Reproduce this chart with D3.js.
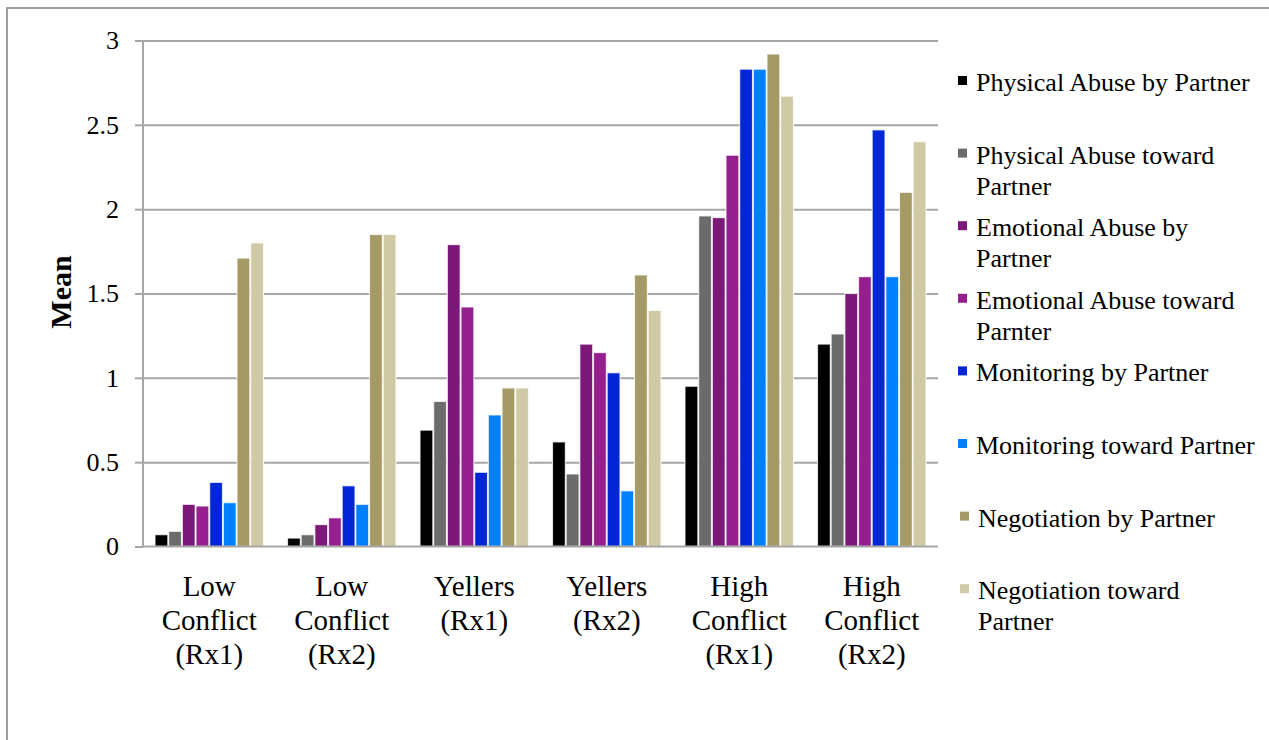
<!DOCTYPE html>
<html>
<head>
<meta charset="utf-8">
<script src="https://cdn.jsdelivr.net/npm/d3@7"></script>
<style>
  html, body { margin: 0; padding: 0; background: #fff; }
  svg { display: block; }
  svg text { font-family: "Liberation Serif", "Times New Roman", serif !important; }
</style>
</head>
<body>
<svg id="chart" width="1269" height="740"></svg>
<script>
// Groups along the x axis (each label split into its display lines)
const categories = ["Low Conflict (Rx1)", "Low Conflict (Rx2)", "Yellers (Rx1)", "Yellers (Rx2)", "High Conflict (Rx1)", "High Conflict (Rx2)"];
const categoryLines = [
  ["Low", "Conflict", "(Rx1)"],
  ["Low", "Conflict", "(Rx2)"],
  ["Yellers", "(Rx1)"],
  ["Yellers", "(Rx2)"],
  ["High", "Conflict", "(Rx1)"],
  ["High", "Conflict", "(Rx2)"]
];

// Series, in legend order
const seriesNames = [
  "Physical Abuse by Partner",
  "Physical Abuse toward Partner",
  "Emotional Abuse by Partner",
  "Emotional Abuse toward Parnter",
  "Monitoring by Partner",
  "Monitoring toward Partner",
  "Negotiation by Partner",
  "Negotiation toward Partner"
];
const legendLines = [
  ["Physical Abuse by Partner"],
  ["Physical Abuse toward", "Partner"],
  ["Emotional Abuse by", "Partner"],
  ["Emotional Abuse toward", "Parnter"],
  ["Monitoring by Partner"],
  ["Monitoring toward Partner"],
  ["Negotiation by Partner"],
  ["Negotiation toward", "Partner"]
];

// Mean scores per series, one value per group
const physicalBy       = [0.07, 0.05, 0.69, 0.62, 0.95, 1.20];
const physicalToward   = [0.09, 0.07, 0.86, 0.43, 1.96, 1.26];
const emotionalBy      = [0.25, 0.13, 1.79, 1.20, 1.95, 1.50];
const emotionalToward  = [0.24, 0.17, 1.42, 1.15, 2.32, 1.60];
const monitoringBy     = [0.38, 0.36, 0.44, 1.03, 2.83, 2.47];
const monitoringToward = [0.26, 0.25, 0.78, 0.33, 2.83, 1.60];
const negotiationBy    = [1.71, 1.85, 0.94, 1.61, 2.92, 2.10];
const negotiationToward= [1.80, 1.85, 0.94, 1.40, 2.67, 2.40];

const seriesValues = [physicalBy, physicalToward, emotionalBy, emotionalToward,
                      monitoringBy, monitoringToward, negotiationBy, negotiationToward];

const yTicks = [0, 0.5, 1, 1.5, 2, 2.5, 3];
const yTickLabels = ["0", "0.5", "1", "1.5", "2", "2.5", "3"];

const colors = ["#000000", "#6b6b6b", "#7b1878", "#951f8f", "#0226d6", "#0080ff", "#a59965", "#d0c9a5"];

// Layout
const svg = d3.select("#chart");
const plot = { left: 143, right: 938, top: 40.5, bottom: 546.5 };
const gridColor = "#a6a6a6";

// Outer frame
svg.append("rect")
  .attr("x", 7).attr("y", 8)
  .attr("width", 1400).attr("height", 900)
  .attr("fill", "none").attr("stroke", "#9c9c9c").attr("stroke-width", 2);

const y = d3.scaleLinear().domain([0, 3]).range([plot.bottom, plot.top]);
const x0 = d3.scaleBand().domain(categories).range([plot.left, plot.right]).padding(0);
const inset = 12;
const x1 = d3.scaleBand().domain(seriesNames)
  .range([inset, x0.bandwidth() - inset]).paddingInner(0.06);

// Horizontal gridlines
const grid = svg.append("g")
  .attr("transform", `translate(${plot.left},0)`)
  .call(d3.axisRight(y).tickValues(yTicks.filter(v => v > 0))
    .tickSize(plot.right - plot.left).tickFormat(""));
grid.select(".domain").remove();
grid.selectAll("line").attr("stroke", gridColor).attr("stroke-width", 2);

// Bars
const groups = svg.append("g").selectAll("g")
  .data(categories)
  .join("g")
  .attr("transform", d => `translate(${x0(d)},0)`);

groups.selectAll("rect")
  .data((c, ci) => seriesNames.map((s, si) => ({ s, si, v: seriesValues[si][ci] })))
  .join("rect")
  .attr("x", d => x1(d.s))
  .attr("width", x1.bandwidth())
  .attr("y", d => y(d.v))
  .attr("height", d => y(0) - y(d.v))
  .attr("fill", d => colors[d.si])
  .attr("stroke", "rgba(255,255,255,0.75)")
  .attr("stroke-width", 1.2);

// Y axis with outward ticks and labels
const yAxis = svg.append("g")
  .attr("transform", `translate(${plot.left},0)`)
  .call(d3.axisLeft(y).tickValues(yTicks)
    .tickFormat((d, i) => yTickLabels[i]).tickSize(8).tickPadding(16));
yAxis.select(".domain").attr("stroke", gridColor).attr("stroke-width", 2)
  .attr("d", `M0,${plot.top}V${plot.bottom}`);
yAxis.selectAll("line").attr("stroke", gridColor).attr("stroke-width", 2);
yAxis.selectAll("text")
  .attr("font-size", 26).attr("fill", "#000");

// X axis baseline
svg.append("line")
  .attr("x1", plot.left).attr("x2", plot.right)
  .attr("y1", y(0)).attr("y2", y(0))
  .attr("stroke", gridColor).attr("stroke-width", 2);

// Category labels
const catLabels = svg.append("g").selectAll("text")
  .data(categories)
  .join("text")
  .attr("text-anchor", "middle")
  .attr("font-size", 29)
  .attr("fill", "#000");
catLabels.each(function (d, i) {
  const t = d3.select(this);
  const cx = x0(d) + x0.bandwidth() / 2;
  categoryLines[i].forEach((line, li) => {
    t.append("tspan").attr("x", cx).attr("y", 596 + li * 34).text(line);
  });
});

// Y axis title
svg.append("text")
  .attr("transform", "translate(71,292) rotate(-90)")
  .attr("text-anchor", "middle")
  .attr("font-size", 30)
  .attr("font-weight", "bold")
  .attr("fill", "#000")
  .text("Mean");

// Legend
const legend = svg.append("g");
const legendItems = legend.selectAll("g")
  .data(seriesNames)
  .join("g")
  .attr("transform", (d, i) => `translate(${i >= 6 ? 960 : 958},${91 + i * 72.6})`);
legendItems.append("rect")
  .attr("x", 0).attr("y", -15)
  .attr("width", 9).attr("height", 9)
  .attr("fill", (d, i) => colors[i]);
legendItems.append("text")
  .attr("font-size", 26)
  .attr("fill", "#000")
  .each(function (d, i) {
    const t = d3.select(this);
    legendLines[i].forEach((line, li) => {
      t.append("tspan").attr("x", 18).attr("y", li * 31).text(line);
    });
  });
</script>
</body>
</html>
